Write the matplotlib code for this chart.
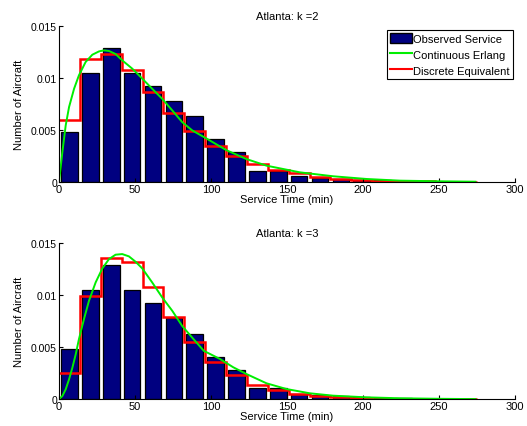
import numpy as np
import matplotlib.pyplot as plt
from matplotlib.patches import Patch
from matplotlib.lines import Line2D

plt.rcParams['font.family'] = ['Liberation Sans', 'DejaVu Sans']
plt.rcParams['font.size'] = 8

# histogram bins (20 bins over the observed range)
bin_width = 13.74
n_bins = 20
edges = np.arange(n_bins + 1) * bin_width
centers = edges[:-1] + bin_width / 2

# observed service time frequencies (same data for both fits)
observed = [0.0048, 0.0105, 0.0129, 0.0105, 0.0092, 0.0078, 0.0063, 0.0041,
            0.00285, 0.00105, 0.0011, 0.00055, 0.00043, 0.00027, 0.0002,
            0.00015, 0.0001, 0.00006, 0.00004, 0.00003]

# discrete equivalent of the Erlang fits, per bin
discrete_k2 = [0.0060, 0.0118, 0.0123, 0.0108, 0.0087, 0.0066, 0.0049, 0.0035,
               0.0025, 0.0017, 0.00118, 0.00083, 0.00051, 0.00029, 0.00019,
               0.0001, 0.00008, 0.00006, 0.00004, 0.00003]
discrete_k3 = [0.0025, 0.0099, 0.0136, 0.0132, 0.0108, 0.0079, 0.0055, 0.0036,
               0.0023, 0.0014, 0.00089, 0.00051, 0.00032, 0.00019, 0.0001,
               0.00006, 0.00004, 0.00003, 0.00002, 0.00001]

# continuous Erlang curves
erlang_x_k2 = [0, 2.2, 4.4, 6.6, 9.9, 13.1, 17.5, 21.9, 26.3, 29.6, 32.9, 37.2,
               41.6, 48.2, 54.8, 61.3, 67.9, 74.5, 81.0, 87.6, 95.3, 110.3,
               123.5, 136.6, 158.5, 180.5, 202.5, 224.4, 250, 274]
erlang_y_k2 = [0, 0.00288, 0.00545, 0.00721, 0.00897, 0.01026, 0.01154, 0.01224,
               0.01256, 0.01266, 0.0126, 0.01231, 0.0117, 0.0109, 0.00994,
               0.00897, 0.008, 0.00689, 0.00577, 0.00497, 0.00433, 0.00305,
               0.0022, 0.00157, 0.00093, 0.00055, 0.00029, 0.00013, 0.00007,
               0.00003]

erlang_x_k3 = [0, 2.2, 4.4, 6.6, 8.8, 11.0, 13.1, 16.4, 19.7, 24.1, 28.5, 32.9,
               37.2, 41.6, 46.0, 50.4, 54.8, 61.3, 67.9, 74.5, 81.0, 87.6, 95.3,
               105.8, 114.6, 123.3, 136.5, 149.6, 164.9, 180.3, 202.2, 224.1,
               250, 274]
erlang_y_k3 = [0, 0.00032, 0.00096, 0.00192, 0.00304, 0.00433, 0.00577, 0.00769,
               0.00945, 0.01122, 0.01256, 0.01346, 0.01388, 0.01394, 0.01372,
               0.0132, 0.01256, 0.01122, 0.00978, 0.0085, 0.00705, 0.00593,
               0.00465, 0.00388, 0.00308, 0.00243, 0.00154, 0.00099, 0.00058,
               0.00035, 0.00019, 0.0001, 0.00005, 0.00002]

panels = [("Atlanta: k =2", discrete_k2, erlang_x_k2, erlang_y_k2),
          ("Atlanta: k =3", discrete_k3, erlang_x_k3, erlang_y_k3)]

fig = plt.figure(figsize=(5.27, 4.27), dpi=100)
axes = [fig.add_axes([0.112, 0.5714, 0.865, 0.3653]),
        fig.add_axes([0.112, 0.0625, 0.865, 0.3660])]

for ax, (title, discrete, ex, ey) in zip(axes, panels):
    ax.bar(centers, observed, width=0.8 * bin_width, color='#000080',
           edgecolor='black', linewidth=0.9)
    ax.plot(ex, ey, color='#00ee00', linewidth=1.4)
    ax.stairs(discrete, edges, baseline=None, color='red', linewidth=1.8)

    ax.set_xlim(0, 300)
    ax.set_ylim(0, 0.015)
    ax.set_xticks([0, 50, 100, 150, 200, 250, 300])
    ax.set_yticks([0, 0.005, 0.01, 0.015])
    ax.set_yticklabels(['0', '0.005', '0.01', '0.015'])
    ax.tick_params(direction='in', length=3, width=0.8, pad=1.5)
    ax.tick_params(axis='y', labelsize=7.5)
    for side in ['top', 'right']:
        ax.spines[side].set_visible(False)
    ax.set_title(title, fontsize=8, pad=5)
    ax.set_xlabel('Service Time (min)', labelpad=0)
    ax.set_ylabel('Number of Aircraft', labelpad=5)

handles = [Patch(facecolor='#000080', edgecolor='black', label='Observed Service'),
           Line2D([], [], color='#00ee00', linewidth=1.5, label='Continuous Erlang'),
           Line2D([], [], color='red', linewidth=1.5, label='Discrete Equivalent')]
leg = axes[0].legend(handles=handles, loc='upper right', bbox_to_anchor=(0.9965, 0.975),
                     fontsize=8, frameon=True, fancybox=False, framealpha=1,
                     edgecolor='black', borderpad=0.3, labelspacing=0.45,
                     handlelength=2.0, handleheight=1.0, handletextpad=0.1,
                     borderaxespad=0)
leg.get_frame().set_linewidth(0.8)

fig.savefig('out.png', dpi=100)
